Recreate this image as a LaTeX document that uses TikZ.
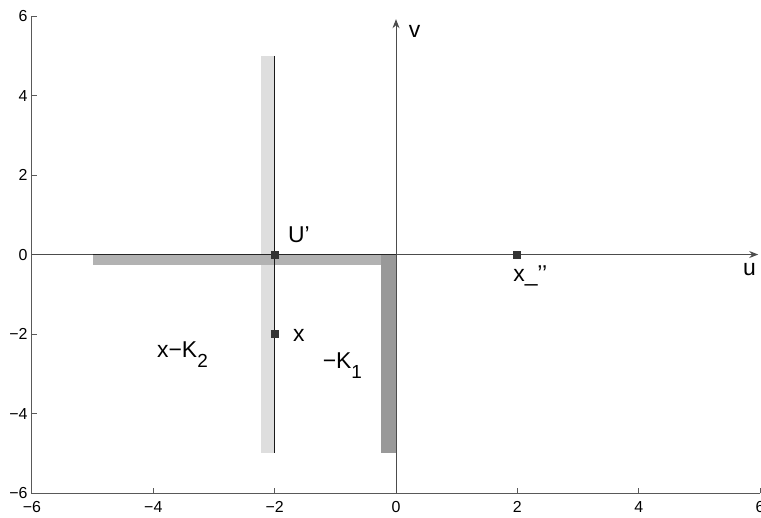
\documentclass[tikz,border=0pt]{standalone}
\usepackage{fontspec}
\setmainfont{Liberation Sans}
\usetikzlibrary{arrows.meta}
\begin{document}
\begin{tikzpicture}[x=60.67bp,y=39.75bp,
  axis/.style={draw=black!70,line width=1bp},
  frame/.style={draw=black!65,line width=1bp},
  ticklab/.style={font=\fontsize{16}{17}\selectfont,inner sep=0pt},
  lab/.style={font=\fontsize{23}{24}\selectfont,inner sep=0pt},
  marker/.style={rectangle,fill=black!80,minimum width=8bp,minimum height=8bp,inner sep=0pt},
  arr/.style={-{Stealth[length=9bp,width=7bp]}},
]
\useasboundingbox (-6.527,-6.604) rectangle (6.016,6.403);
% shaded boundaries
\fill[black!13] (-2.22,-5) rectangle (-2,5);
\fill[black!30] (-5,0) rectangle (0,-0.27);
\fill[black!40] (-0.25,0) rectangle (0,-5);
% named points
\coordinate (uL) at (-6,0);
\coordinate (uR) at (5.97,0);
\coordinate (vB) at (0,-6);
\coordinate (vT) at (0,5.92);
\coordinate (lT) at (-2,5);
\coordinate (lB) at (-2,-5);
\coordinate (bL) at (-5,0);
\coordinate (corner) at (0,0);
\coordinate (fTL) at (-6,6);
\coordinate (fBL) at (-6,-6);
\coordinate (fBR) at (6,-6);
% frame
\draw[frame] (fTL) -- (fBL) -- (fBR);
\foreach \t in {-4,-2,0,2,4,6}{
  \draw[frame] (\t,-6) -- (\t,-5.87);
  \draw[frame] (-6,\t) -- (-5.91,\t);
}
\foreach \t in {-6,-4,-2,0,2,4,6}{
  \node[ticklab,anchor=center] at (\t,-6.34) {\ifnum\t<0 −\the\numexpr-\t\relax\else\t\fi};
  \node[ticklab,anchor=east] at (-6.07,\t) {\ifnum\t<0 −\the\numexpr-\t\relax\else\t\fi};
}
% axes
\draw[axis,arr] (uL) -- (uR);
\draw[axis,arr] (vB) -- (vT);
\draw[black!85,line width=1.4bp] (bL) -- (corner);
% line u=-2
\draw[black!90,line width=1.2bp] (lT) -- (lB);
% markers
\node[marker] (Up) at (-2,0) {};
\node[marker] (xp) at (-2,-2) {};
\node[marker] (xpp) at (2,0) {};
% labels
\node[lab,anchor=base west] (uLab) at (5.72,-0.54) {u};
\node[lab,anchor=base west] (vLab) at (0.21,5.45) {v};
\node[lab,anchor=base west] (UpLab) at (-1.78,0.31) {U’};
\node[lab,anchor=base west] (xLab) at (-1.70,-2.20) {x};
\node[lab,anchor=base west] (K1Lab) at (-1.21,-2.86) {−K\raisebox{-0.45em}{\fontsize{19}{19}\selectfont 1}};
\node[lab,anchor=base west] (K2Lab) at (-3.94,-2.58) {x−K\raisebox{-0.45em}{\fontsize{19}{19}\selectfont 2}};
\node[lab,anchor=base west] (xppLab) at (1.93,-0.67) {x\_’’};
\end{tikzpicture}
\end{document}
